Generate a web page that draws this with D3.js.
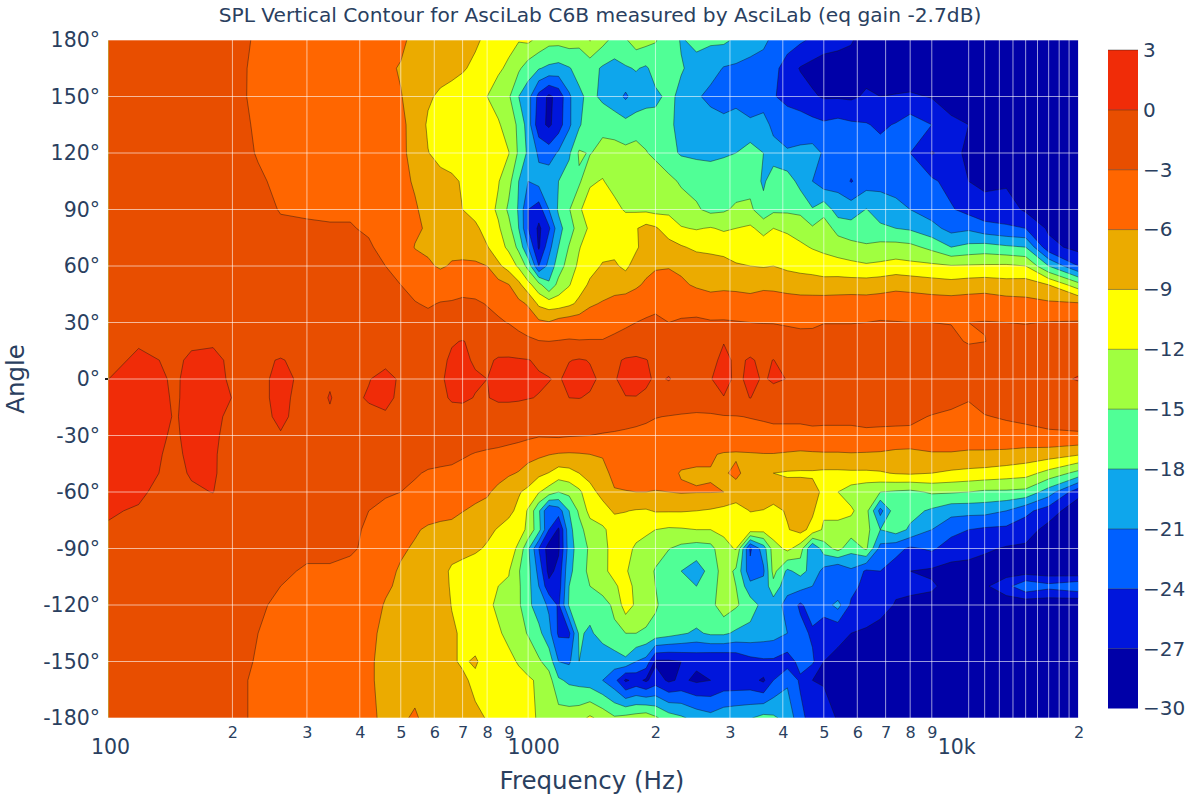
<!DOCTYPE html>
<html><head><meta charset="utf-8">
<script src="https://cdn.jsdelivr.net/npm/d3@7"></script>
<style>html,body{margin:0;padding:0;background:#fff}svg{display:block}text{font-family:"DejaVu Sans",sans-serif;fill:#2a3f5f}</style>
</head><body><svg id="c" width="1200" height="800"></svg>
<script>
const freqs=[102,120,147,160,180,200,230,260,300,340,380,420,460,500,
540,580,620,660,700,750,800,850,900,950,
1000,1060,1120,1180,1250,1320,1400,1500,
1600,1700,1800,1900,2000,2150,2300,2500,2700,2900,
3100,3350,3600,3800,4100,4400,4700,5000,
5400,5800,6300,6800,7400,8000,9000,10000,
11000,12000,13500,15000,17000,20000];
const angles=[180,165,150,135,120,105,90,80,70,60,50,40,30,20,10,0,-10,-20,-30,-40,-50,-60,-70,-80,-90,-102,-110,-120,-135,-150,-160,-180];
const spl=[
[-2,-2,-2,-2,-2.2,-2.5,-3.2,-4,-4.4,-4.6,-5,-5.2,-5.5,-5.4, -6.8,-7.4,-7.6,-8,-8.3,-8.7,-9.4,-10.2,-11,-11.8, -11.4,-12.8,-14,-14,-13.6,-14.2,-11.8,-14, -16,-15.3,-13.5,-14,-14.8,-16.6,-18.2,-17.4,-17.6,-17.4, -18.5,-19.5,-20.5,-21.5,-22.5,-23.5,-24.5,-25.5, -26,-26.6,-29,-29,-30,-30,-30,-30, -30,-30,-30,-30,-30,-30],
[-2,-2,-2,-2,-2.2,-2.6,-3.3,-4,-4.4,-4.6,-5,-5.2,-5.5,-6.2, -7,-7.4,-7.6,-8.2,-8.8,-9.4,-10.5,-11.5,-12.6,-14.5, -16.5,-17.8,-18.6,-19,-18.2,-17,-16.8,-18.4, -19,-18.3,-17.8,-18.4,-16.8,-16.8,-17.8,-18.8,-19.6,-21.2, -21.5,-22,-22,-23,-25.5,-27.2,-28,-28.5, -28.6,-28.8,-28,-29.2,-29,-29.6,-30,-30, -30,-30,-30,-30,-30,-30],
[-2,-2,-2,-2,-2.1,-2.5,-3.4,-3.9,-4.3,-4.5,-4.8,-5,-5.3,-5.9, -6.9,-8.5,-9.6,-10,-10,-10.6,-12,-13.5,-14.6,-18, -19.8,-25,-27.6,-26,-21.5,-18.6,-17.2,-18.6, -19.5,-21.5,-19.5,-19,-18.6,-17.4,-18.6,-20.5,-22,-23.5, -22,-24,-23,-23.8,-24.8,-25.6,-26.6,-27.3, -27.3,-27.5,-26.6,-27,-26.8,-26.5,-27.2,-28, -29,-29.5,-30,-30,-30,-30],
[-2,-2,-2,-2,-2.1,-2.5,-3.2,-3.7,-4.1,-4.4,-4.6,-4.8,-5.2,-5.7, -6.5,-9.5,-10,-10,-10,-10.4,-11.2,-11.6,-13.6,-15.5, -19.5,-26,-27.5,-25.5,-21.5,-18.5,-15.5,-16, -16.6,-17,-16.8,-16.6,-17,-17.6,-18.6,-19,-19.3,-19.4, -19.6,-20,-19.5,-22,-22.5,-22.5,-23,-23.5, -23,-23.5,-23.8,-24.5,-23.8,-22.5,-24,-26.5, -27,-28.5,-29,-30,-30,-30],
[-2,-2,-2,-2,-2.1,-2.4,-3.1,-3.5,-3.9,-4.2,-4.4,-4.6,-5,-5.6, -6.6,-8.9,-10,-10,-10,-10.3,-10.6,-11.2,-11.9,-15.5, -18.6,-21.5,-22.5,-20.6,-18.5,-14.6,-15.2,-13.8, -13.6,-14.2,-13.6,-14.8,-15.8,-17.2,-18.3,-18.6,-18.6,-18.2, -18,-16.8,-18,-19.5,-20.7,-20.4,-20,-21.3, -21.8,-22.2,-22.4,-23,-22.8,-24,-27.2,-25.8, -27.8,-28,-29,-29.5,-30,-30],
[-2,-2,-2,-2,-2,-2.2,-2.8,-3.3,-3.7,-4,-4.2,-4.5,-5,-5.5, -6.2,-7.5,-8,-8.6,-9.2,-10,-10.5,-11.8,-14,-18, -21,-20,-19,-18,-16.5,-15.5,-12.4,-11.8, -13.2,-14,-14.6,-12.5,-12.8,-14.2,-15.4,-16,-16.6,-17, -16.5,-16,-18.5,-16.3,-16.5,-19,-21,-23, -22,-24.2,-22.5,-22,-22,-22.5,-23.5,-25, -27,-27.6,-27.5,-28,-28.5,-29],
[-1.8,-1.8,-1.8,-1.9,-2,-2.1,-2.4,-3.1,-3.2,-3.2,-3.2,-3.6,-4.4,-5, -5.8,-6.6,-7.2,-7.8,-9,-10.2,-10.8,-12.5,-15.6,-18.3, -24,-25.5,-21,-17.6,-15.2,-12.4,-10.6,-10.5, -11,-12.4,-12.5,-12.6,-13,-12.6,-13.6,-14.6,-15.8,-15.4, -14.5,-14.4,-17,-15.6,-15.6,-15.8,-17.8,-16, -19.5,-19.5,-17.9,-19.3,-20.3,-21,-22.5,-23.7, -25,-26,-25.5,-27.5,-28,-28.5],
[-1.6,-1.6,-1.6,-1.7,-1.8,-2,-2.4,-2.7,-2.8,-2.9,-2.9,-3.2,-3.8,-4.7, -5.6,-6.3,-6.8,-7,-7.2,-8.3,-10.3,-11.6,-14,-18, -24,-27.6,-24.5,-19,-16.4,-13.6,-11.5,-10.5, -10.2,-9.8,-9.2,-8,-8.6,-10.6,-11.8,-12.2,-11.8,-12.4, -12,-11.5,-13,-12,-12.4,-13.2,-14.6,-13.6, -16,-16.8,-17.2,-17.5,-18,-18.4,-20,-22, -21.5,-22.8,-23.6,-24,-27.5,-29],
[-1.5,-1.5,-1.5,-1.5,-1.6,-1.8,-2.1,-2.3,-2.4,-2.4,-2.5,-2.8,-3.5,-4.4, -6.1,-6.6,-6.8,-6.8,-6.8,-7.4,-8.8,-10.8,-12.6,-15.8, -21,-27.4,-22,-18,-14.8,-12.2,-10.4,-9.8, -9.8,-11.4,-9.4,-7.8,-7.3,-7.8,-8.7,-9.6,-9.8,-10, -10,-9.8,-10.5,-10.2,-11,-11.5,-12.2,-12.7, -13.5,-14,-14.5,-14,-13.9,-14.2,-15.8,-18, -17.2,-16.8,-17.5,-18,-26,-28],
[-1.3,-1.3,-1.3,-1.3,-1.4,-1.6,-1.8,-1.9,-2,-2.1,-2.2,-2.4,-3,-3.8, -5,-5.5,-6.4,-5.7,-5.6,-5.5,-6,-8.4,-10.2,-12.5, -16,-24,-20,-16.5,-13.6,-11.4,-9.8,-8.8, -8.6,-9.6,-7.8,-6.8,-6.3,-6.2,-6.6,-7.2,-7.6,-8, -8.8,-9,-9.2,-9,-9.6,-10,-10.2,-10.6, -10.8,-11.2,-11.6,-11.4,-10.9,-11.2,-11.4,-11.8, -11.7,-11.6,-11.5,-12,-18,-24],
[-1.1,-1.1,-1.2,-1.2,-1.3,-1.4,-1.5,-1.6,-1.7,-1.8,-1.9,-2,-2.4,-3, -3.6,-3.9,-4,-4,-3.8,-3.9,-4.2,-5,-5.9,-8.2, -11,-14,-17.5,-14,-12.2,-10.1,-8.6,-7.8, -7.3,-7.3,-6.4,-5.6,-5,-4.8,-5.5,-6.4,-7,-6.8, -7,-7.2,-6.6,-6.8,-7.2,-7.4,-7.6,-7.8, -7.6,-7.6,-7.5,-7.2,-6.7,-7,-7.6,-7.9, -7.5,-7.3,-7.8,-7.5,-9,-13.8],
[-.8,-.8,-.9,-1,-1.1,-1.2,-1.3,-1.4,-1.5,-1.6,-1.7,-1.8,-2.1,-2.5, -2.9,-3.2,-2.9,-2.8,-2.6,-2.7,-3.1,-3.6,-4.4,-5.3, -6.3,-9.6,-10.5,-10.4,-9.6,-8.4,-6.5,-5.7, -5,-4.6,-4.4,-4.2,-3.6,-3.4,-3.7,-4,-4.4,-4.2, -4.2,-4.6,-4.6,-4.4,-4.6,-4.8,-4.7,-4.6, -4.6,-4.5,-4.7,-4.6,-4.6,-4.5,-4.5,-4.6, -4.5,-4.4,-4.8,-5.2,-5.5,-5.6],
[-.6,-.6,-.7,-.8,-.9,-1,-1.1,-1.2,-1.2,-1.3,-1.4,-1.5,-1.7,-2, -2.1,-2.4,-2.3,-2.2,-2.1,-2.2,-2.4,-2.7,-3.1,-3.9, -4.4,-5.4,-5.8,-4.8,-4.4,-4.2,-3.9,-3.9, -3.6,-3.3,-3,-2.6,-2.5,-3,-2.8,-2.6,-2.8,-2.8, -2.9,-3,-3.1,-3.1,-3.3,-3.6,-3.6,-3.1, -3.1,-3.1,-3,-2.8,-2.9,-3,-3,-3.1, -3,-2.9,-3,-3.1,-2.9,-2.8],
[-.4,-.3,-.5,-.4,-.3,-.5,-.7,-.8,-.9,-1,-1,-1,-1.2,-1.3, -1.4,-1.5,-1.2,-.2,.1,-.5,-.8,-1.1,-1.5,-1.9, -2.5,-2.9,-3,-2.9,-2.8,-2.9,-2.9,-2.9, -2.6,-2.3,-2,-1.9,-1.8,-1.7,-1.7,-1.6,-1.4,-.1, -.9,-1,-1.3,-1.6,-1.8,-1.8,-1.7,-1.6, -1.6,-1.6,-1.6,-1.6,-1.6,-1.6,-1.7,-2.3, -3.3,-3.05,-2.2,-2,-2,-2],
[-.8,.5,-.4,.4,.6,-.5,-.3,.1,-.5,-.6,-.6,-.5,-.6,-.8, -.9,-.9,-.6,.4,.5,-.3,-.3,.2,.3,.2, .1,-.4,-.8,-.7,-.1,.2,-.1,-.8, -.5,.3,.5,.1,-.6,-.6,-.8,-.7,-.7,.6, -.4,.2,-.4,.05,-.8,-.9,-.9,-.9, -1,-1,-1,-1,-1,-1,-1,-1.2, -1.3,-1.2,-1.1,-1.1,-1.1,-1],
[0,1,-.3,.8,.8,-.4,-.4,.4,-.4,-.1,-.4,-.1,.7,-.3, -.5,-.5,-.4,.8,1,.3,0,.8,1,.8, .7,.3,.1,-.3,.8,1,.4,-.4, -.2,.8,1,.4,-.3,.1,-.5,-.4,-.1,.9, -.5,.5,-.2,.3,-.05,-.5,-.6,-.6, -.7,-.7,-.7,-.7,-.7,-.8,-.8,-1, -1,-1,-1,-1,-.8,.2],
[1,1.5,-.3,.9,.9,-.05,-.3,.3,-.5,.05,-.5,.2,.6,-.5, -.7,-.7,-.6,.3,.4,-.1,-.1,.4,.4,.3, .1,-.1,-.5,-.7,0,.05,-.2,-.8, -.7,-.1,-.1,-.4,-.9,-1,-1.1,-1.2,-1.1,-.1, -.8,.05,-.8,-.9,-1.2,-1.3,-1.3,-1.3, -1.4,-1.5,-1.5,-1.6,-1.5,-1.5,-1.2,-2.2, -2.9,-2.2,-2,-1.8,-1.8,-1.6],
[1.2,1.6,-.2,1,.9,-.9,-.5,.3,-.7,-.1,-.7,-.5,-.3,-.9, -1,-1,-1,-1,-1,-1.1,-1.1,-1.3,-1.3,-1.4, -1.5,-1.4,-1.4,-1.5,-1.4,-1.5,-1.5,-1.6, -1.9,-2,-2.2,-2.5,-2.9,-3.1,-3.3,-3.5,-3.4,-3.2, -3.1,-2.9,-2.7,-2.5,-2.5,-2.5,-2.4,-2.4, -2.4,-2.4,-2.3,-2.3,-2.3,-2.3,-3.2,-3.5, -3.4,-3.1,-2.8,-2.6,-2.4,-2.3],
[.7,1,-.3,.8,.5,-1,-.9,-.1,-1.1,-1.2,-1.2,-1.3,-1.4,-1.6, -1.8,-1.9,-1.9,-1.9,-2,-2,-2.1,-2.1,-2.2,-2.3, -2.5,-2.8,-2.7,-2.6,-2.8,-2.9,-3,-3.2, -3.3,-3.5,-3.7,-3.9,-4,-4,-4.1,-4.1,-4.2,-4.1, -4,-4,-3.9,-3.8,-3.8,-3.8,-3.6,-3.7, -3.7,-3.7,-3.5,-3.6,-3.7,-3.8,-4,-4, -4.3,-4,-3.8,-3.6,-3.3,-3.2],
[.6,.7,-.4,.5,.3,-1.1,-1.2,-.9,-1.3,-1.4,-1.5,-1.5,-1.6,-1.8, -2,-2.2,-2.4,-2.5,-2.8,-3.1,-3.3,-3.5,-3.8,-4.2, -4.8,-5.4,-5.9,-6.2,-6.3,-6.2,-6,-5.8, -5.5,-5.5,-5.5,-5.5,-5.5,-5.5,-5.5,-5.6,-5.8,-6.2, -6.3,-6.2,-6.1,-6.1,-6.3,-6.5,-6.4,-6.3, -6.3,-6.2,-6.3,-6.4,-6.8,-6.9,-6.3,-6.3, -6.5,-6.6,-6.8,-7.3,-7.6,-8.7],
[.5,.6,-.5,.2,.3,-1.2,-1.4,-1.5,-1.6,-1.7,-1.8,-2,-2.2,-2.5, -2.8,-3.2,-3.3,-3.4,-3.6,-3.9,-4.2,-4.9,-5.6,-6.2, -7.4,-8.3,-9.1,-10.4,-10,-9,-8,-6.8, -5.3,-5,-5,-5,-5,-5.6,-6.1,-6.2,-6.1,-6.3, -5.5,-7,-7.9,-9,-9.3,-9.4,-9.4,-9.6, -9.6,-9.5,-9.5,-9.3,-8.8,-8.6,-9,-9.5, -9.8,-10,-10.5,-10.9,-13,-16],
[.3,.2,-.6,-.3,.05,-1.5,-1.7,-1.8,-2,-2.1,-2.2,-2.5,-2.9,-3, -3.4,-3.9,-4,-4.2,-4.6,-5,-5.6,-6.8,-8,-8.8, -9.6,-11.8,-13.4,-15,-14.2,-12.6,-10,-8, -6.2,-6.1,-6,-6,-6.1,-6,-5.8,-5.9,-5.9,-6, -7,-8,-7.4,-7.5,-8,-7.6,-8,-9.6, -12,-13.5,-14.4,-15,-15.4,-15.7,-14.6,-14.7, -15,-15.5,-15.5,-15.8,-19.5,-26],
[.1,-.1,-.8,-1,-1,-1.6,-1.8,-2,-2.2,-2.3,-2.4,-3,-3.2,-3.5, -3.9,-4.5,-4.7,-5,-5.9,-6.6,-7,-7.7,-8.5,-9.5, -12.4,-17.5,-24,-22.5,-18,-14.5,-11,-10.2, -8.6,-8.9,-9.2,-9.3,-8.8,-8.8,-8.8,-9,-9.3,-9.9, -10.5,-8.9,-9.1,-9.8,-8.7,-7.4,-8.5,-11.5, -11,-11.5,-14,-22,-16,-17,-18.5,-20, -20,-20,-21,-23.2,-25.5,-29],
[-.1,-.4,-1,-1.2,-1.4,-1.8,-2,-2.1,-2.3,-2.5,-2.7,-3.2,-3.6,-4.6, -5.6,-6.5,-7,-7.2,-7.5,-7.8,-8.4,-9.2,-9.8,-10.8, -12.6,-17,-24,-27.5,-19,-16,-13.5,-12.5, -10.8,-10.4,-10.6,-11.4,-12,-12.4,-12.3,-12,-12,-11.5, -12,-10.5,-11,-10.2,-9.2,-8,-10,-12.5, -13,-13.4,-14,-18,-16.6,-18.5,-21,-23, -24,-24.5,-24.7,-25.7,-28,-30],
[-.5,-.8,-1.2,-1.4,-1.6,-1.9,-2.1,-2.2,-2.6,-2.6,-2.8,-3.3,-3.9,-5.5, -6.4,-7,-7.3,-7.5,-8,-8.6,-9.3,-10,-10.6,-12.6, -17.5,-24,-28.5,-27.5,-19.5,-16.5,-14.6,-12.8, -11,-10.8,-12.6,-13.2,-14,-14.9,-15.8,-16.4,-16,-12.8, -11.8,-24.5,-19.5,-13.5,-11.2,-13.5,-21,-16.5, -14,-17,-14.5,-22,-23,-24.5,-23.5,-25.5, -26,-26.5,-27.3,-27.5,-29,-30],
[-.8,-1.1,-1.4,-1.6,-1.8,-2,-2.3,-2.7,-3.2,-3.2,-3.4,-4,-5,-6.4, -7,-7.3,-7.6,-9.6,-10.1,-10.4,-10.9,-11.5,-11.8,-14.8, -17,-22,-28,-26,-18.5,-17,-14,-12.6, -11.2,-11.8,-12.8,-14,-15.2,-16.6,-18,-19.4,-17,-13.6, -15.5,-23,-21.5,-14,-18.6,-17,-19,-22, -24,-21.5,-24.5,-24,-25.5,-27,-27.5,-28, -28,-28.5,-28.5,-28.5,-29,-29.5],
[-.9,-1.2,-1.5,-1.7,-1.9,-2.1,-2.5,-3,-3.4,-3.5,-3.7,-4.4,-5.6,-6.5, -7,-7.3,-7.6,-9.4,-10,-10.4,-11,-12,-12.4,-14.6, -17,-21,-26,-25.5,-18,-17,-15,-14, -12.4,-11,-12.6,-13.6,-15,-16.5,-17.5,-18,-16.5,-13.4, -15,-20,-20,-16,-20,-20,-21,-22, -24,-23,-25,-25,-26.5,-26.5,-26.6,-28, -28,-27.5,-25,-21.5,-23,-21.5],
[-1,-1.3,-1.6,-1.8,-2,-2.2,-2.7,-3.4,-3.6,-3.8,-4,-4.8,-6.2,-6.6, -7,-7.3,-7.7,-9.1,-9.8,-10.3,-11.3,-12.6,-13,-14.5, -17.3,-19.5,-21.5,-24.5,-17.6,-17,-16.5,-16, -14.5,-10.5,-12.5,-13.2,-14.6,-16.5,-16.5,-15.8,-16,-13.2, -14.6,-16.5,-19,-19.5,-22,-24.5,-22.5,-22.5, -20,-24.5,-25,-26,-27.2,-27.5,-28,-28, -28.5,-28.5,-29,-29.5,-29.5,-30],
[-1.2,-1.5,-1.8,-2,-2.2,-2.5,-3,-3.6,-3.9,-4.2,-4.6,-5.4,-6.6,-6.9, -7.2,-7.5,-7.8,-8.6,-9.4,-10.2,-10.8,-11.6,-12.8,-14, -15.2,-17.2,-20,-24.5,-24.5,-17.5,-18.6,-16.5, -15.5,-15,-15,-15.5,-16,-16.8,-17.6,-18.5,-17.5,-17.5, -18.5,-19,-19.5,-19.8,-21,-23,-24.5,-26, -26.5,-27,-27.5,-28,-28,-28.5,-29,-29, -29,-29,-29.5,-30,-30,-30],
[-1.5,-1.7,-2,-2.1,-2.3,-2.6,-3.1,-3.8,-4.1,-4.4,-4.8,-5.7,-6.6,-6.9, -7.2,-7.5,-7.8,-8.7,-9.3,-8.7,-10,-10.5,-11.2,-12.3, -13.2,-14.6,-16.2,-21,-21.5,-18,-19,-20.6, -19.6,-18.6,-21,-22,-27.5,-27.5,-27,-26.5,-27,-27, -26.5,-25,-24.5,-24.5,-25.5,-23,-23.5,-27, -27.5,-28,-28.5,-29,-29,-29.5,-29.5,-30, -30,-30,-30,-30,-30,-30],
[-1.5,-1.7,-2,-2.1,-2.4,-2.7,-3.2,-3.9,-4.3,-4.6,-5,-5.7,-6.6,-6.8, -7.1,-7.4,-7.8,-8.2,-8.6,-9.5,-10.1,-10.8,-10.3,-11, -11.6,-12.4,-13.8,-17.5,-18.6,-19,-19.6,-21, -23,-27.5,-26,-27.5,-25.5,-27.5,-26.5,-27.5,-27,-26, -26,-26,-27.5,-24,-21.5,-24.5,-27,-27.5, -28,-28.5,-29,-29,-29.5,-29.5,-30,-30, -30,-30,-30,-30,-30,-30],
[-1.6,-1.8,-2,-2.2,-2.4,-2.7,-3.2,-3.9,-4.3,-4.6,-5,-5.6,-6.4,-6.5, -5.6,-7,-7.6,-7.8,-8,-8.6,-9.1,-10,-10.6,-12, -11.5,-12.2,-13,-13.6,-13.4,-13,-11.5,-13, -14.6,-14,-13.6,-13,-14.5,-16.5,-17.5,-19,-20,-19, -18.6,-18.2,-17,-17.5,-19,-23,-25.5,-24.5, -27.5,-28,-28.5,-29,-29,-29.5,-30,-30, -30,-30,-30,-30,-30,-30]
];
const levels=d3.range(-30,1,3);
const bandColors=["#0000a8","#0016dc","#0060ff","#0ea6ec","#50ff96","#a0ff40","#ffff00","#ebab00","#ff6600","#e84e00","#f02c08"];
const titleText="SPL Vertical Contour for AsciLab C6B measured by AsciLab (eq gain -2.7dB)";
const angleTicks=d3.range(-180,181,30);
const gridFreqs=[200,300,400,500,600,700,800,1000,2000,3000,4000,5000,6000,7000,8000,9000,11000,12000,13000,14000,15000,16000,17000,18000,19000,20000];
const majorFreqs=[100,1000,10000];
const minorFreqs=[200,300,400,500,600,700,800,900,2000,3000,4000,5000,6000,7000,8000,9000,20000];
const barTicks=d3.range(-30,4,3);

spl.forEach((r,i)=>{if(r.length!==freqs.length)throw new Error("row "+i+" has "+r.length)});
if(spl.length!==angles.length)throw new Error("rows");

const svg=d3.select("#c");
const L=108,R=1078.5,T=40,B=718;
const x=d3.scaleLog().domain([101.6,20000]).range([L,R]);
const y=d3.scaleLinear().domain([180,-180]).range([T,B]);
const fmtMinor=d=>String(d).replace(/0+$/,"");
const xs=freqs.map(f=>x(f)),ys=angles.map(a=>y(a));
const n=freqs.length,m=angles.length;
const mapC=(c,arr,k)=>{const t=Math.max(0,Math.min(k-1,c-.5)),i=Math.min(k-2,Math.floor(t));return arr[i]+(arr[i+1]-arr[i])*(t-i)};
const contours=d3.contours().size([n,m]).thresholds(levels).smooth(true)(spl.flat());

svg.append("defs").append("clipPath").attr("id","plot").append("rect").attr("x",L).attr("y",T).attr("width",R-L).attr("height",B-T);
const plot=svg.append("g").attr("clip-path","url(#plot)");
const geo=d3.geoPath();
contours.forEach((c,i)=>{
  const mapped={type:"MultiPolygon",coordinates:c.coordinates.map(p=>p.map(r=>r.map(q=>[mapC(q[0],xs,n),mapC(q[1],ys,m)])))};
  plot.append("path").attr("d",geo(mapped)).attr("fill",bandColors[i]).attr("fill-rule","evenodd");
});
contours.forEach((c,i)=>{
  if(i===0)return;
  const p=d3.path();
  const edge=(a,b)=>(a[0]<=.5&&b[0]<=.5)||(a[0]>=n-.5&&b[0]>=n-.5)||(a[1]<=.5&&b[1]<=.5)||(a[1]>=m-.5&&b[1]>=m-.5);
  c.coordinates.forEach(poly=>poly.forEach(ring=>{
    let pen=false;
    for(let k=1;k<ring.length;k++){
      const a=ring[k-1],b=ring[k];
      if(edge(a,b)){pen=false;continue}
      if(!pen){p.moveTo(mapC(a[0],xs,n),mapC(a[1],ys,m));pen=true}
      p.lineTo(mapC(b[0],xs,n),mapC(b[1],ys,m));
    }
  }));
  plot.append("path").attr("d",p.toString()).attr("fill","none").attr("stroke","rgba(20,20,20,.55)").attr("stroke-width",.8);
});
// grid
const grid=svg.append("g").attr("stroke","rgba(255,255,255,.6)").attr("stroke-width",1);
grid.selectAll("line.v").data(gridFreqs).join("line").attr("x1",d=>x(d)).attr("x2",d=>x(d)).attr("y1",T).attr("y2",B);
grid.selectAll("line.h").data(angleTicks).join("line").attr("x1",L).attr("x2",R).attr("y1",d=>y(d)).attr("y2",d=>y(d));
svg.append("line").attr("x1",L-3).attr("x2",L).attr("y1",y(0)).attr("y2",y(0)).attr("stroke","#222").attr("stroke-width",2);
// axes
const yAxis=svg.append("g").attr("transform",`translate(${L},0)`).call(d3.axisLeft(y).tickValues(angleTicks).tickSize(0).tickPadding(8).tickFormat(d=>d+"°"));
yAxis.select(".domain").remove();
yAxis.selectAll("text").style("font-size","20.5px").style("font-family",'"DejaVu Sans"').attr("fill","#2a3f5f");
const xMinor=svg.append("g").attr("transform",`translate(0,${B})`).call(d3.axisBottom(x).tickValues(minorFreqs).tickSize(0).tickPadding(9).tickFormat(fmtMinor));
xMinor.select(".domain").remove();
xMinor.selectAll("text").style("font-size","16px").style("font-family",'"DejaVu Sans"').attr("fill","#2a3f5f");
const xMajor=svg.append("g").attr("transform",`translate(5,${B})`).call(d3.axisBottom(x).tickValues(majorFreqs).tickSize(0).tickPadding(21).tickFormat(d=>d===10000?"10k":d));
xMajor.select(".domain").remove();
xMajor.selectAll("text").style("font-size","20.5px").style("font-family",'"DejaVu Sans"').attr("fill","#2a3f5f");
svg.append("text").attr("x",600).attr("y",22).attr("text-anchor","middle").style("font-size","20.2px").text(titleText);
svg.append("text").attr("x",592).attr("y",789).attr("text-anchor","middle").style("font-size","24.5px").text("Frequency (Hz)");
svg.append("text").attr("transform","translate(24,379) rotate(-90)").attr("text-anchor","middle").style("font-size","24.5px").text("Angle");
// colorbar
const cb=d3.scaleLinear().domain([-30,3]).range([708.5,50]);
const bar=svg.append("g");
bar.selectAll("rect").data(levels).join("rect").attr("x",1108).attr("width",30).attr("y",d=>cb(d+3)).attr("height",d=>cb(d)-cb(d+3)).attr("fill",(d,i)=>bandColors[i]);
bar.selectAll("line").data(levels.slice(1).concat([3])).join("line").attr("x1",1108).attr("x2",1138).attr("y1",d=>cb(d)).attr("y2",d=>cb(d)).attr("stroke","rgba(20,20,20,.5)").attr("stroke-width",.8);
const cbAxis=svg.append("g").attr("transform","translate(1138,0)").call(d3.axisRight(cb).tickValues(barTicks).tickSize(0).tickPadding(5).tickFormat(d=>d<0?"\u2212"+(-d):d));
cbAxis.select(".domain").remove();
cbAxis.selectAll("text").style("font-size","20px").style("font-family",'"DejaVu Sans"').attr("fill","#2a3f5f");
</script></body></html>
